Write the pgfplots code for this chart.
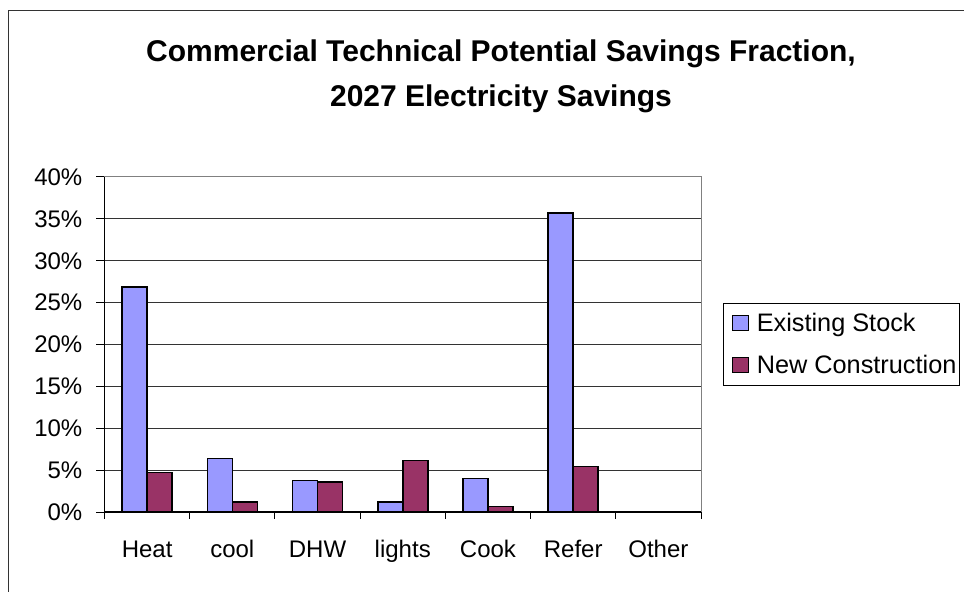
\documentclass[border=0pt]{standalone}
\usepackage{pgfplots}
\pgfplotsset{compat=1.18}
\usepackage{fontspec}
\setmainfont{Liberation Sans}
\definecolor{exist}{HTML}{9999FF}
\definecolor{newc}{HTML}{993366}

\begin{document}
\begin{tikzpicture}
\useasboundingbox (0,0) rectangle (964bp,592bp);
% outer chart frame
\draw[line width=1.3bp, black!80] (8.3bp,-10bp) -- (8.3bp,581.3bp) -- (975bp,581.3bp);
\node[font=\bfseries\fontsize{30bp}{36bp}\selectfont, anchor=base] at (501bp,530bp)
  {Commercial Technical Potential Savings Fraction,};
\node[font=\bfseries\fontsize{30bp}{36bp}\selectfont, anchor=base] at (501bp,485.5bp)
  {2027 Electricity Savings};
\begin{axis}[
  at={(104.5bp,80bp)}, anchor=south west,
  scale only axis, width=596.5bp, height=335bp,
  ymin=0, ymax=40, ytick={0,5,...,40}, ytick pos=left,
  yticklabel={\pgfmathprintnumber[assume math mode=true]{\tick}\%},
  xmin=-0.5, xmax=6.5, xtick={0,...,6},
  xticklabels={Heat,cool,DHW,lights,Cook,Refer,Other},
  xtick style={draw=none},
  ytick style={black, line width=1bp},
  tick align=outside, major tick length=8bp,
  ybar=0pt, bar width=25bp,
  ymajorgrids, grid style={black!80, line width=1bp},
  axis line style={gray, line width=1bp},
  ticklabel style={font=\fontsize{24bp}{28bp}\selectfont},
  yticklabel style={inner sep=0pt, anchor=east, xshift=-14bp},
  xticklabel style={inner sep=0pt, anchor=north, text height=17bp, text depth=5bp, yshift=-20bp},
  legend style={at={(1.0365,0.624)}, anchor=north west, draw=black, line width=0.8bp,
    font=\fontsize{25.3bp}{30bp}\selectfont, inner xsep=1bp, inner ysep=10bp,
    row sep=22bp, nodes={inner xsep=2bp, inner ysep=0pt}},
  legend cell align=left,
  legend image code/.code={
    \path (0bp,0bp);
    \draw[#1, draw=black, line width=1bp] (8bp,-7bp) rectangle (24bp,8bp);
    \path (29bp,0bp);},
  clip=false,
]
\addplot[fill=exist, draw=black, line width=1.6bp] coordinates
  {(0,26.9) (1,6.37) (2,3.74) (3,1.16) (4,3.98) (5,35.7) (6,0)};
\addplot[fill=newc, draw=black, line width=1.6bp] coordinates
  {(0,4.74) (1,1.16) (2,3.55) (3,6.13) (4,0.64) (5,5.45) (6,0)};
\legend{Existing Stock, New Construction}
\draw[black, line width=1.2bp] (rel axis cs:0,1) -- (rel axis cs:0,0) -- (rel axis cs:1,0);
\pgfplotsinvokeforeach{-0.5,0.5,1.5,2.5,3.5,4.5,5.5,6.5}{
  \draw[black, line width=1bp] (axis cs:#1,0) -- ++(0bp,-7bp);
}
\end{axis}
\end{tikzpicture}
\end{document}
